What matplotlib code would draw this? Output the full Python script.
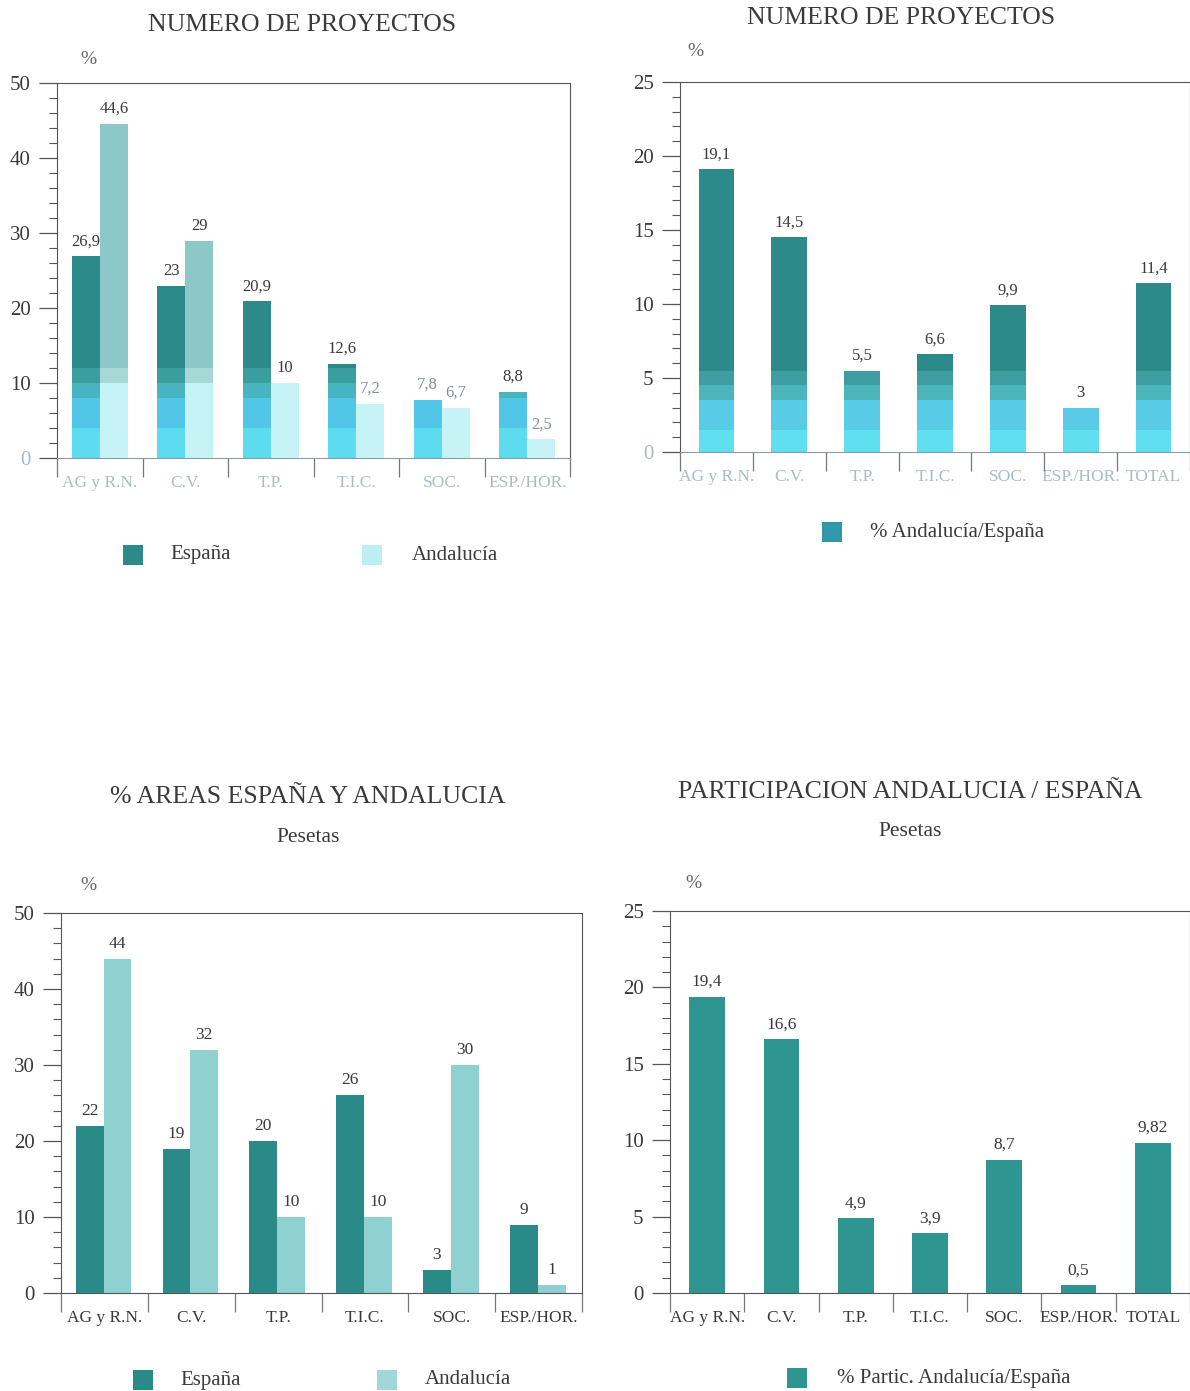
#----------------------------------------
# Proyectos y pesetas por areas: Espana / Andalucia
#----------------------------------------

import numpy as np
import matplotlib.pyplot as plt
from matplotlib.patches import Rectangle

W, H = 1190, 1391

areas6 = ['AG y R.N.', 'C.V.', 'T.P.', 'T.I.C.', 'SOC.', 'ESP./HOR.']
areas7 = areas6 + ['TOTAL']

# numero de proyectos (%)
proy_espana = [26.9, 23, 20.9, 12.6, 7.8, 8.8]
proy_andalucia = [44.6, 29, 10, 7.2, 6.7, 2.5]
proy_partic = [19.1, 14.5, 5.5, 6.6, 9.9, 3, 11.4]

# pesetas (%)
pts_espana = [22, 19, 20, 26, 3, 9]
pts_andalucia = [44, 32, 10, 10, 30, 1]
pts_partic = [19.4, 16.6, 4.9, 3.9, 8.7, 0.5, 9.82]

FONT = ['Liberation Serif', 'DejaVu Serif']
TXT = '#3a3a3a'
FADED = '#a9bcc6'

# print bands seen in the scan (upper limit, colour)
BANDS_ESP = [(4, '#5cdcee'), (8, '#52c6e6'), (10, '#48b4bf'), (12, '#3a9e9f'), (1e9, '#2c8a8b')]
BANDS_AND = [(10, '#c6f3f6'), (12, '#a6d8d5'), (1e9, '#8cc8c7')]
BANDS_PART = [(1.5, '#5fdff0'), (3.5, '#58cce6'), (4.5, '#4cb5bc'), (5.5, '#3e9da0'), (1e9, '#2c8a8b')]


def fmt(v):
    return f"{v:g}".replace('.', ',')


def px_axes(fig, l, t, r, b):
    return fig.add_axes([l / W, 1 - b / H, (r - l) / W, (b - t) / H])


def banded_bar(ax, x, v, width, bands):
    lo = 0
    for top, col in bands:
        hi = min(top, v)
        if hi > lo:
            ax.bar(x, hi - lo, width, bottom=lo, color=col, linewidth=0)
        lo = hi
        if lo >= v:
            break


def style_axes(ax, ymax, ncat, cats, faded=False, xmax=None):
    ax.set_ylim(0, ymax)
    ax.set_xlim(-0.5, xmax if xmax is not None else ncat - 0.5)
    step = 10 if ymax == 50 else 5
    minor = 2 if ymax == 50 else 1
    ax.set_yticks(np.arange(0, ymax + 0.1, step))
    ax.set_yticks(np.arange(0, ymax + 0.1, minor), minor=True)
    ax.set_yticklabels([f"{int(t)}" for t in np.arange(0, ymax + 0.1, step)])
    ax.set_xticks(np.arange(ncat))
    ax.set_xticklabels(cats)
    ax.set_xticks(np.arange(ncat + 1) - 0.5, minor=True)
    ax.tick_params(axis='y', which='major', direction='out', length=13, width=0.9,
                   color='#555555', labelsize=15, labelcolor=TXT, pad=6)
    ax.tick_params(axis='y', which='minor', direction='out', length=6, width=0.8, color='#555555')
    ax.tick_params(axis='x', which='major', length=0, labelsize=12.5, pad=12,
                   labelcolor=FADED if faded else TXT)
    ax.tick_params(axis='x', which='minor', direction='out', length=14, width=0.9,
                   color='#777777')
    for lab in ax.get_yticklabels() + ax.get_xticklabels():
        lab.set_family(FONT)
    if faded:
        ax.get_yticklabels()[0].set_color(FADED)
    for s in ax.spines.values():
        s.set_linewidth(0.8)
        s.set_color('#555555')
    if faded:
        ax.spines['bottom'].set_color('#8c9ca4')
    ax.set_facecolor('none')


def value_labels(ax, xs, vals, size=12, faded_below=None):
    for x, v in zip(xs, vals):
        col = TXT
        if faded_below is not None and v < faded_below:
            col = '#7f9097'
        ax.annotate(fmt(v), (x, v), xytext=(0, 5), textcoords='offset points',
                    ha='center', va='bottom', fontsize=size, color=col, family=FONT)


def fig_text(fig, x, y, s, size, ha='center', color=TXT):
    fig.text(x / W, 1 - y / H, s, ha=ha, va='center', fontsize=size, color=color, family=FONT)


def legend_item(fig, x, y, color, label, tx):
    sz = 20
    fig.add_artist(Rectangle(((x - sz / 2) / W, 1 - (y + sz / 2) / H), sz / W, sz / H,
                             transform=fig.transFigure, facecolor=color, edgecolor='none'))
    fig_text(fig, tx, y, label, 15, ha='left')


def main():
    fig = plt.figure(figsize=(W / 100, H / 100), dpi=100, facecolor='white')
    xs6 = np.arange(len(areas6))
    xs7 = np.arange(len(areas7))

    # ---- arriba izquierda: numero de proyectos, Espana vs Andalucia
    ax1 = px_axes(fig, 57, 83, 570, 458)
    for x, v in zip(xs6, proy_espana):
        banded_bar(ax1, x - 0.165, v, 0.33, BANDS_ESP)
    for x, v in zip(xs6, proy_andalucia):
        banded_bar(ax1, x + 0.165, v, 0.33, BANDS_AND)
    style_axes(ax1, 50, 6, areas6, faded=True)
    value_labels(ax1, xs6 - 0.165, proy_espana, faded_below=8)
    value_labels(ax1, xs6 + 0.165, proy_andalucia, faded_below=8)
    fig_text(fig, 302, 25, 'NUMERO DE PROYECTOS', 18.5)
    fig_text(fig, 88, 60, '%', 14, color='#666666')
    legend_item(fig, 133, 555, '#2c8a8b', 'España', 170)
    legend_item(fig, 372, 555, '#bdeef2', 'Andalucía', 412)

    # ---- arriba derecha: participacion en numero de proyectos
    ax2 = px_axes(fig, 680, 82, 1190, 452)
    for x, v in zip(xs7, proy_partic):
        banded_bar(ax2, x, v, 0.49, BANDS_PART)
    style_axes(ax2, 25, 7, areas7, faded=True, xmax=6.47)
    value_labels(ax2, xs7, proy_partic)
    fig_text(fig, 901, 18, 'NUMERO DE PROYECTOS', 18.5)
    fig_text(fig, 695, 52, '%', 14, color='#666666')
    legend_item(fig, 832, 532, '#2f98aa', '% Andalucía/España', 870)

    # ---- abajo izquierda: % areas en pesetas
    ax3 = px_axes(fig, 61, 913, 582, 1293)
    ax3.bar(xs6 - 0.17, pts_espana, 0.32, color='#2a8a88', linewidth=0)
    ax3.bar(xs6 + 0.15, pts_andalucia, 0.32, color='#8fd0d0', linewidth=0)
    style_axes(ax3, 50, 6, areas6)
    value_labels(ax3, xs6 - 0.17, pts_espana, size=12.5)
    value_labels(ax3, xs6 + 0.15, pts_andalucia, size=12.5)
    fig_text(fig, 308, 797, '% AREAS ESPAÑA Y ANDALUCIA', 18.5)
    fig_text(fig, 308, 838, 'Pesetas', 15.5)
    fig_text(fig, 88, 885, '%', 14, color='#666666')
    legend_item(fig, 143, 1380, '#2a8a88', 'España', 180)
    legend_item(fig, 387, 1380, '#9ed8d8', 'Andalucía', 425)

    # ---- abajo derecha: participacion en pesetas
    ax4 = px_axes(fig, 670, 911, 1190, 1293)
    ax4.bar(xs7, pts_partic, 0.48, color='#2e9590', linewidth=0)
    style_axes(ax4, 25, 7, areas7, xmax=6.48)
    value_labels(ax4, xs7, pts_partic, size=12.5)
    fig_text(fig, 910, 792, 'PARTICIPACION ANDALUCIA / ESPAÑA', 18.5)
    fig_text(fig, 910, 831, 'Pesetas', 15.5)
    fig_text(fig, 693, 884, '%', 14, color='#666666')
    legend_item(fig, 797, 1378, '#2e9590', '% Partic. Andalucía/España', 837)

    fig.savefig('out.png', dpi=100, facecolor='white')


if __name__ == "__main__":
    main()
